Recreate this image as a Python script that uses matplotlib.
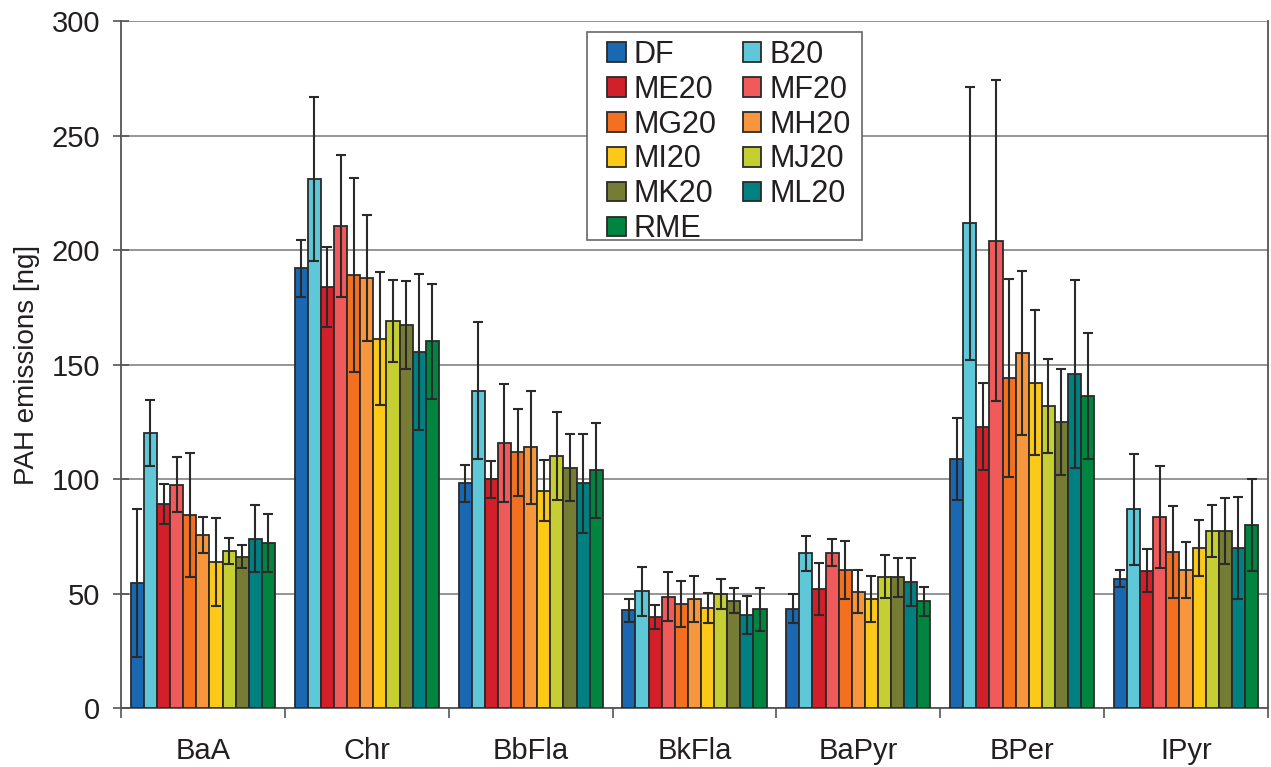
import numpy as np
import matplotlib
matplotlib.use('Agg')
import matplotlib.pyplot as plt
from matplotlib.patches import Patch, Rectangle

plt.rcParams['font.family'] = ['Liberation Sans', 'DejaVu Sans']
plt.rcParams['font.size'] = 21

compounds = ['BaA', 'Chr', 'BbFla', 'BkFla', 'BaPyr', 'BPer', 'IPyr']
fuels = ['DF', 'B20', 'ME20', 'MF20', 'MG20', 'MH20', 'MI20', 'MJ20', 'MK20', 'ML20', 'RME']
colors = ['#1a67b2', '#5ec8d8', '#d2202a', '#f05a5a', '#f37021', '#f7963c',
          '#fdc918', '#c6cf32', '#767c34', '#008080', '#008541']

# mean emissions [ng], one list per compound, order as fuels
baa = [54.4, 120.0, 89.1, 97.4, 84.3, 75.4, 63.9, 68.7, 66.1, 73.9, 72.2]
chr_ = [192.1, 231.0, 183.8, 210.6, 189.2, 187.6, 161.3, 169.1, 167.2, 155.6, 160.1]
bbfla = [98.1, 138.6, 99.8, 115.9, 111.6, 113.8, 94.9, 109.9, 104.9, 98.1, 103.8]
bkfla = [42.6, 50.9, 39.7, 48.6, 45.4, 47.7, 43.8, 49.8, 46.9, 40.6, 43.1]
bapyr = [43.4, 67.5, 52.0, 67.8, 60.4, 50.8, 47.6, 57.3, 57.0, 55.0, 46.7]
bper = [108.7, 211.6, 122.8, 204.1, 144.0, 155.2, 142.1, 131.9, 124.8, 145.7, 136.2]
ipyr = [56.5, 86.8, 60.0, 83.5, 68.1, 60.3, 70.0, 77.3, 77.3, 70.0, 79.9]

# error bars (+/-)
baa_err = [32.3, 14.4, 8.7, 12.0, 27.0, 7.8, 19.2, 5.6, 5.0, 14.6, 12.7]
chr_err = [12.4, 36.0, 17.4, 31.0, 42.3, 27.5, 29.0, 18.0, 19.2, 34.0, 25.0]
bbfla_err = [8.0, 29.8, 8.2, 25.8, 19.0, 24.8, 13.4, 19.2, 14.7, 21.6, 20.7]
bkfla_err = [5.0, 10.6, 5.4, 10.7, 9.9, 10.0, 6.6, 6.4, 5.5, 8.4, 9.4]
bapyr_err = [6.3, 7.8, 11.3, 5.8, 12.6, 9.3, 10.2, 9.4, 8.5, 10.4, 6.3]
bper_err = [18.0, 59.6, 19.0, 70.2, 43.2, 35.8, 31.8, 20.6, 23.1, 41.1, 27.4]
ipyr_err = [3.8, 24.3, 9.3, 22.3, 20.1, 12.2, 12.3, 11.2, 14.3, 22.2, 20.0]

means = np.array([baa, chr_, bbfla, bkfla, bapyr, bper, ipyr])
errs = np.array([baa_err, chr_err, bbfla_err, bkfla_err, bapyr_err, bper_err, ipyr_err])

fig = plt.figure(figsize=(12.71, 7.67), dpi=100)
ax = fig.add_axes([0.0952, 0.0769, 0.9024, 0.8957])

x = np.arange(len(compounds))
w = 0.08
for i, f in enumerate(fuels):
    pos = x + (i - 5) * w
    ax.bar(pos, means[:, i], w, color=colors[i], edgecolor='#2a2a2a', linewidth=1.3, zorder=3)
    ax.errorbar(pos, means[:, i], yerr=errs[:, i], fmt='none', ecolor='#2a2a2a',
                elinewidth=1.5, capsize=3.8, capthick=1.5, zorder=4)

ax.set_xlim(-0.5, 6.5)
ax.set_ylim(0, 300)
ax.set_yticks(np.arange(0, 301, 50))
ax.yaxis.grid(True, color='#8c8c8c', linewidth=1.3, zorder=0)
ax.set_axisbelow(True)
ax.set_xticks(np.arange(-0.5, 6.6, 1))
ax.set_xticklabels([])
ax.set_xticks(x, minor=True)
ax.set_xticklabels(compounds, minor=True)
ax.tick_params(axis='x', which='major', direction='out', length=7, width=1.2, color='#555555')
ax.tick_params(axis='x', which='minor', length=0, pad=21, labelcolor='#231f20')
ax.tick_params(axis='y', direction='inout', length=12, width=1.2, color='#555555',
               pad=9, labelcolor='#231f20')
for s in ['left', 'bottom', 'right', 'top']:
    ax.spines[s].set_color('#555555')
    ax.spines[s].set_linewidth(1.3)
ax.spines['top'].set_visible(False)
ax.set_ylabel('PAH emissions [ng]', color='#231f20', fontsize=20, labelpad=8)

# legend box drawn separately so padding can differ horizontally / vertically
box = Rectangle((0.406, 0.681), 0.2398, 0.3028, transform=ax.transAxes,
                facecolor='white', edgecolor='#666666', linewidth=1.2, zorder=6)
ax.add_patch(box)

# legend fills column-wise, so reorder to get DF/B20 on the first row
order = [0, 2, 4, 6, 8, 10, 1, 3, 5, 7, 9]
handles = [Patch(facecolor=colors[k], edgecolor='#2a2a2a', linewidth=1.3) for k in order]
labels = [fuels[k] for k in order]
leg = ax.legend(handles, labels, ncol=2, loc='upper left', bbox_to_anchor=(0.4237, 0.9727),
                borderaxespad=0, frameon=False, fontsize=22, handlelength=0.62,
                handleheight=0.62, handletextpad=0.25, columnspacing=0.85,
                labelspacing=0.16, borderpad=0)
leg.set_zorder(7)
for t in leg.get_texts():
    t.set_color('#231f20')

fig.savefig('out.png', dpi=100)
